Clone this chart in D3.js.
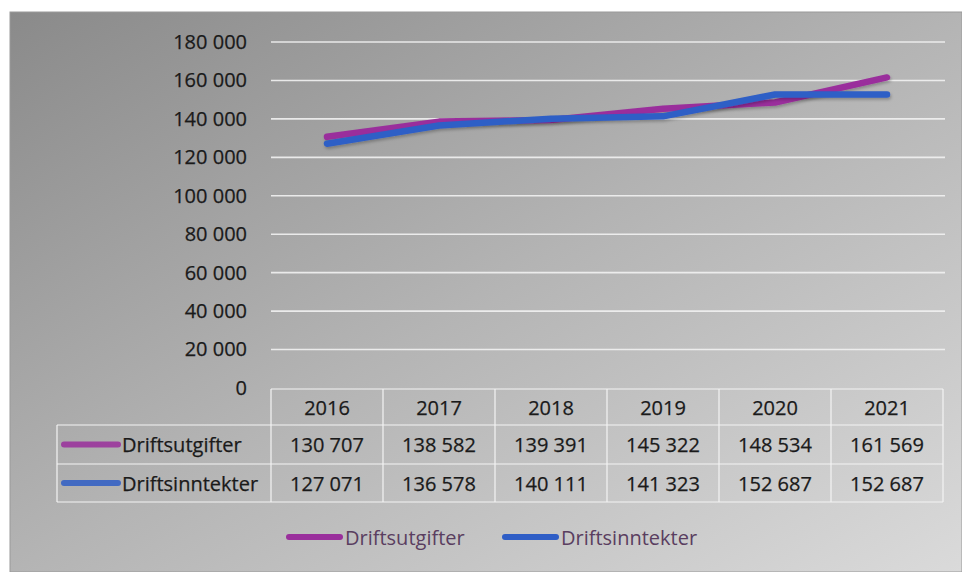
<!DOCTYPE html>
<html><head><meta charset="utf-8">
<script src="https://cdn.jsdelivr.net/npm/d3@7"></script>
<style>html,body{margin:0;padding:0;background:#fff;}svg{display:block;}</style>
</head><body>
<svg id="chart" width="962" height="572"></svg>
<script>
const years = ["2016","2017","2018","2019","2020","2021"];
const seriesNames = ["Driftsutgifter","Driftsinntekter"];
const driftsutgifter = [130707,138582,139391,145322,148534,161569];
const driftsinntekter = [127071,136578,140111,141323,152687,152687];
const yTicks = [0,20000,40000,60000,80000,100000,120000,140000,160000,180000];
const seriesColors = ["#9a2f9c","#2f5ec6"];

const svg = d3.select("#chart");
const font = "'Open Sans', 'DejaVu Sans', sans-serif";
const defs = svg.append("defs");
const grad = defs.append("linearGradient").attr("id","bg").attr("x1","0").attr("y1","0").attr("x2","1").attr("y2","1");
grad.append("stop").attr("offset","0%").attr("stop-color","#8a8a8a");
grad.append("stop").attr("offset","50%").attr("stop-color","#b4b4b4");
grad.append("stop").attr("offset","100%").attr("stop-color","#dadada");
const sh = defs.append("filter").attr("id","sh").attr("x","-10%").attr("y","-50%").attr("width","120%").attr("height","200%");
sh.append("feDropShadow").attr("dx",1).attr("dy",2).attr("stdDeviation",1.5).attr("flood-color","#000").attr("flood-opacity",0.25);

svg.append("rect").attr("x",10).attr("y",12).attr("width",952).attr("height",560)
  .attr("fill","url(#bg)").attr("stroke","#9a9a9a").attr("stroke-width",1);

const left = 271, right = 943;
const x = d3.scaleBand().domain(years).range([left,right]);
const y = d3.scaleLinear().domain([0,180000]).range([388,42]);
const fmt = v => d3.format(",")(v).replace(/,/g," ");
const styleText = sel => sel.attr("font-family",font).attr("font-size",20)
  .attr("fill","#1a1a1a").attr("stroke","#1a1a1a").attr("stroke-width",0.25);

// gridlines
svg.append("g").selectAll("line").data(yTicks.filter(d=>d>0)).join("line")
  .attr("x1",left).attr("x2",right+2).attr("y1",d=>y(d)).attr("y2",d=>y(d))
  .attr("stroke","#f2f2f2").attr("stroke-width",1.6).attr("opacity",0.9);

// y axis via d3 axis
const yAxis = svg.append("g").attr("transform",`translate(${left},0)`)
  .call(d3.axisLeft(y).tickValues(yTicks).tickFormat(fmt).tickSize(0).tickPadding(24));
yAxis.select(".domain").remove();
styleText(yAxis.selectAll("text"));

// data table
const rowTop = 389, rowH = [36,39,38];
const rows = [rowTop, rowTop+rowH[0], rowTop+rowH[0]+rowH[1], rowTop+rowH[0]+rowH[1]+rowH[2]];
const tbl = svg.append("g").attr("stroke","#f4f4f4").attr("stroke-width",1.2);
const labelLeft = 57;
tbl.append("line").attr("x1",left).attr("x2",right).attr("y1",rows[0]).attr("y2",rows[0]);
tbl.append("line").attr("x1",labelLeft).attr("x2",right).attr("y1",rows[1]).attr("y2",rows[1]);
tbl.append("line").attr("x1",labelLeft).attr("x2",right).attr("y1",rows[2]).attr("y2",rows[2]);
tbl.append("line").attr("x1",labelLeft).attr("x2",right).attr("y1",rows[3]).attr("y2",rows[3]);
tbl.append("line").attr("x1",labelLeft).attr("x2",labelLeft).attr("y1",rows[1]).attr("y2",rows[3]);
tbl.selectAll("line.v").data(years.concat(["end"])).join("line").attr("class","v")
  .attr("x1",(d,i)=>left+i*x.bandwidth()).attr("x2",(d,i)=>left+i*x.bandwidth())
  .attr("y1",rows[0]).attr("y2",rows[3]);

styleText(svg.append("g").selectAll("text").data(years).join("text")
  .attr("x",d=>x(d)+x.bandwidth()/2).attr("y",(rows[0]+rows[1])/2)
  .attr("text-anchor","middle").attr("dominant-baseline","central").text(d=>d));

const allSeries = [driftsutgifter, driftsinntekter];
allSeries.forEach((vals,si)=>{
  const cy = (rows[si+1]+rows[si+2])/2;
  svg.append("line").attr("x1",64).attr("x2",118).attr("y1",cy).attr("y2",cy)
    .attr("stroke",seriesColors[si]).attr("stroke-width",6).attr("stroke-linecap","round").attr("opacity",0.85);
  styleText(svg.append("text").attr("x",122).attr("y",cy).attr("dominant-baseline","central").text(seriesNames[si]));
  styleText(svg.append("g").selectAll("text").data(vals).join("text")
    .attr("x",(d,i)=>x(years[i])+x.bandwidth()/2).attr("y",cy)
    .attr("text-anchor","middle").attr("dominant-baseline","central").text(d=>fmt(d)));
});

// lines
const line = d3.line().x((d,i)=>x(years[i])+x.bandwidth()/2).y(d=>y(d));
allSeries.forEach((vals,si)=>{
  svg.append("path").datum(vals).attr("d",line).attr("fill","none")
    .attr("stroke",seriesColors[si]).attr("stroke-width",6.5)
    .attr("stroke-linejoin","round").attr("stroke-linecap","round").attr("filter","url(#sh)");
});

// legend
const legendItems = [{x:289, name:seriesNames[0], c:seriesColors[0]},{x:505, name:seriesNames[1], c:seriesColors[1]}];
const lg = svg.append("g");
legendItems.forEach(it=>{
  lg.append("line").attr("x1",it.x).attr("x2",it.x+51).attr("y1",537).attr("y2",537)
    .attr("stroke",it.c).attr("stroke-width",6).attr("stroke-linecap","round");
  lg.append("text").attr("x",it.x+56).attr("y",537).attr("dominant-baseline","central")
    .attr("font-family",font).attr("font-size",20).attr("fill","#5a3e60").text(it.name);
});
</script>
</body></html>
